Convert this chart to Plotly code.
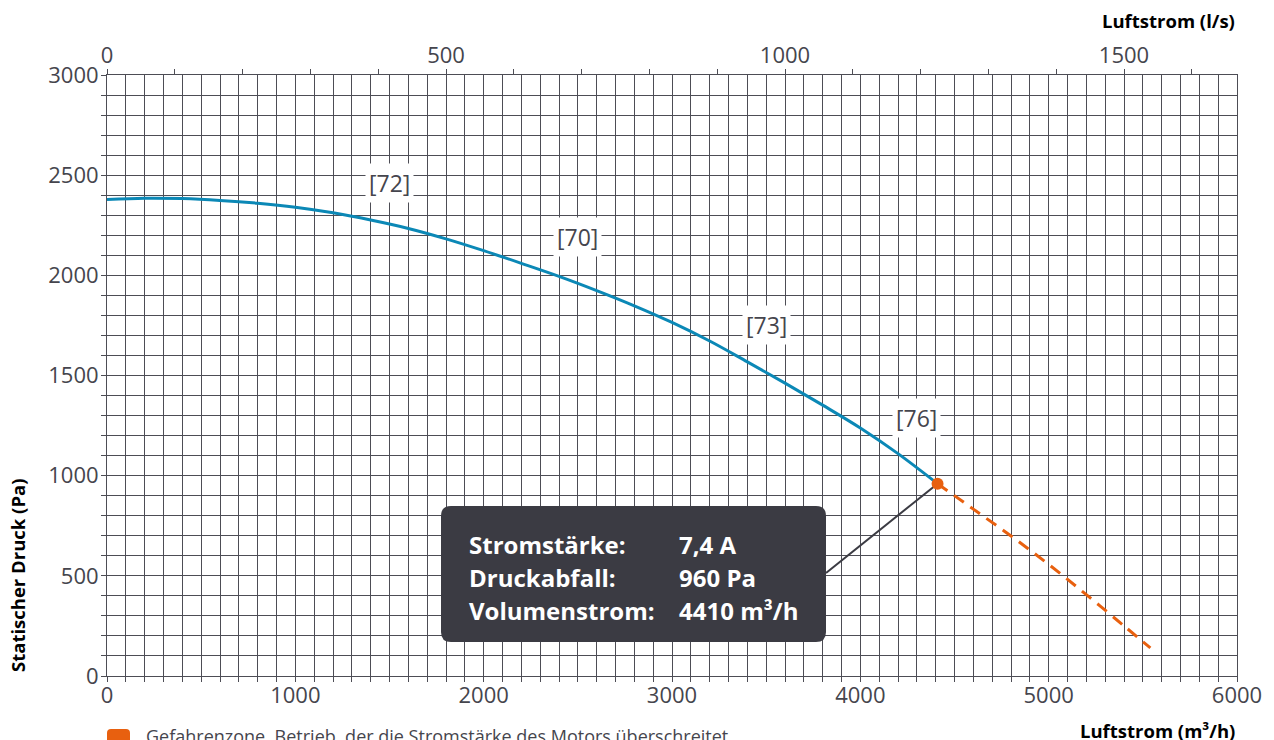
import plotly.graph_objects as go

# ---------------- data ----------------
flow_m3h = [0, 200, 400, 600, 800, 1000, 1200, 1400, 1600, 1800, 2000, 2200,
            2400, 2600, 2800, 3000, 3200, 3400, 3600, 3800, 4000, 4200, 4410]
pressure_pa = [2378, 2385, 2383, 2374, 2360, 2340, 2312, 2276, 2234, 2182, 2123, 2060,
               1995, 1924, 1848, 1765, 1672, 1568, 1462, 1352, 1238, 1110, 960]

danger_flow = [4410, 4600, 4800, 5000, 5200, 5400, 5540]
danger_pressure = [960, 833, 699, 557, 406, 250, 140]

op_flow = [4410]
op_pressure = [960]

label_flow = [1500, 2500, 3500, 4300]
label_pressure = [2460, 2190, 1750, 1290]
label_text = ["[72]", "[70]", "[73]", "[76]"]

tip_keys = ["Stromstärke:", "Druckabfall:", "Volumenstrom:"]
tip_vals = ["7,4 A", "960 Pa", "4410 m³/h"]

x_ticks = [0, 1000, 2000, 3000, 4000, 5000, 6000]
y_ticks = [0, 500, 1000, 1500, 2000, 2500, 3000]
top_ticks = [0, 500, 1000, 1500]
M3H_PER_LS = 3.6

# ---------------- layout constants (window pixels) ----------------
OFF = 8                      # page body margin
W, H = 1274 - OFF, 740
X_LEFT, X_RIGHT = 107, 1237  # plot area in window pixels
Y_TOP, Y_BOT = 75, 676
ML = X_LEFT - OFF
MT = Y_TOP - OFF
PW = X_RIGHT - X_LEFT
PH = Y_BOT - Y_TOP
MR = W - ML - PW
MB = H - MT - PH
XMAX, YMAX = 6000, 3000

FONT = "Open Sans"
TXT = "#45454d"
GRID = "#4d4d55"
BLUE = "#0b88b6"
ORANGE = "#e8600f"
DARK = "#3b3b43"


def px2x(px):
    return (px - X_LEFT) / PW * XMAX


def py2y(py):
    return (Y_BOT - py) / PH * YMAX


def px2paper(px):
    return (px - X_LEFT) / PW


def py2paper(py):
    return (Y_BOT - py) / PH


def rounded_path(x0, x1, y0, y1, rx, ry):
    return (f"M {x0+rx},{y1} L {x1-rx},{y1} Q {x1},{y1} {x1},{y1-ry} "
            f"L {x1},{y0+ry} Q {x1},{y0} {x1-rx},{y0} L {x0+rx},{y0} "
            f"Q {x0},{y0} {x0},{y0+ry} L {x0},{y1-ry} Q {x0},{y1} {x0+rx},{y1} Z")


fig = go.Figure()

fig.add_trace(go.Scatter(x=flow_m3h, y=pressure_pa, mode="lines",
                         line=dict(color=BLUE, width=3, shape="spline"),
                         hoverinfo="skip", showlegend=False))
fig.add_trace(go.Scatter(x=danger_flow, y=danger_pressure, mode="lines",
                         line=dict(color=ORANGE, width=3, dash="12px,8px", shape="spline"),
                         hoverinfo="skip", showlegend=False))
# invisible trace to activate top axis
fig.add_trace(go.Scatter(x=[0, XMAX / M3H_PER_LS], y=[0, 0], xaxis="x2", mode="markers",
                         marker=dict(opacity=0), hoverinfo="skip", showlegend=False))

# tooltip box + connector
bx0, bx1, by0, by1 = px2x(441), px2x(826), py2y(642), py2y(506)
rx, ry = 10 / PW * XMAX, 10 / PH * YMAX
fig.add_shape(type="line", x0=bx1, y0=py2y(573), x1=op_flow[0], y1=op_pressure[0],
              xref="x", yref="y", line=dict(color=DARK, width=2), layer="between")
fig.add_shape(type="path", path=rounded_path(bx0, bx1, by0, by1, rx, ry), xref="x", yref="y",
              fillcolor=DARK, line=dict(width=0), layer="above")

fig.add_trace(go.Scatter(x=op_flow, y=op_pressure, mode="markers",
                         marker=dict(color=ORANGE, size=12),
                         hoverinfo="skip", showlegend=False))

annotations = []
for xv, yv, t in zip(label_flow, label_pressure, label_text):
    annotations.append(dict(x=xv, y=yv, xref="x", yref="y", text=t, showarrow=False,
                            font=dict(family=FONT, size=23, color=TXT),
                            bgcolor="white", borderpad=3))

for i, (k, v) in enumerate(zip(tip_keys, tip_vals)):
    yc = py2paper(544 + 33 * i)
    annotations.append(dict(x=px2paper(467), y=yc, xref="paper", yref="paper",
                            xanchor="left", yanchor="middle", text=f"<b>{k}</b>",
                            showarrow=False, font=dict(family=FONT, size=24, color="white")))
    annotations.append(dict(x=px2paper(677), y=yc, xref="paper", yref="paper",
                            xanchor="left", yanchor="middle", text=f"<b>{v}</b>",
                            showarrow=False, font=dict(family=FONT, size=24, color="white")))

TITLE_FONT = dict(family=FONT, size=18.5, color="black")
annotations.append(dict(x=1, y=py2paper(20), xref="paper", yref="paper", xanchor="right",
                        yanchor="middle", text="<b>Luftstrom (l/s)</b>", showarrow=False,
                        font=TITLE_FONT))
annotations.append(dict(x=1, y=py2paper(730), xref="paper", yref="paper", xanchor="right",
                        yanchor="middle", text="<b>Luftstrom (m³/h)</b>", showarrow=False,
                        font=TITLE_FONT))
annotations.append(dict(x=px2paper(17), y=py2paper(576), xref="paper", yref="paper",
                        xanchor="center", yanchor="middle", textangle=-90,
                        text="<b>Statischer Druck (Pa)</b>", showarrow=False,
                        font=TITLE_FONT))
annotations.append(dict(x=px2paper(144), y=py2paper(736), xref="paper", yref="paper",
                        xanchor="left", yanchor="middle",
                        text="Gefahrenzone. Betrieb, der die Stromstärke des Motors überschreitet",
                        showarrow=False, font=dict(family=FONT, size=18, color=TXT)))

sx0, sx1, sy0, sy1 = px2paper(107), px2paper(130), py2paper(752), py2paper(729)
fig.add_shape(type="path", xref="paper", yref="paper",
              path=rounded_path(sx0, sx1, sy0, sy1, 4 / PW, 4 / PH),
              fillcolor=ORANGE, line=dict(width=0), layer="above")

tickfont = dict(family=FONT, size=22, color=TXT)
fig.update_layout(
    width=W, height=H,
    margin=dict(l=ML, r=MR, t=MT, b=MB, pad=0),
    paper_bgcolor="white", plot_bgcolor="white",
    annotations=annotations,
    xaxis=dict(range=[0, XMAX], tickvals=x_ticks, ticks="outside", ticklen=5,
               tickcolor=GRID, tickfont=tickfont, ticklabelstandoff=-5,
               showgrid=True, gridcolor=GRID, gridwidth=1,
               minor=dict(dtick=100, tick0=0, ticks="outside", ticklen=5, tickcolor=GRID,
                          showgrid=True, gridcolor=GRID, gridwidth=1),
               showline=True, linecolor=GRID, linewidth=1, mirror=True,
               zeroline=False, fixedrange=True),
    yaxis=dict(range=[0, YMAX], tickvals=y_ticks, ticks="outside", ticklen=5,
               tickcolor=GRID, tickfont=tickfont, ticklabelstandoff=-2,
               showgrid=True, gridcolor=GRID, gridwidth=1,
               minor=dict(dtick=100, tick0=0, ticks="outside", ticklen=5, tickcolor=GRID,
                          showgrid=True, gridcolor=GRID, gridwidth=1),
               showline=True, linecolor=GRID, linewidth=1, mirror=True,
               zeroline=False, fixedrange=True),
    xaxis2=dict(range=[0, XMAX / M3H_PER_LS], overlaying="x", side="top",
                tickvals=top_ticks, ticks="outside", ticklen=5, tickcolor=GRID,
                tickfont=tickfont, ticklabelstandoff=-3, showgrid=False, zeroline=False,
                minor=dict(dtick=100, tick0=0, ticks="outside", ticklen=5, tickcolor=GRID),
                showline=False, fixedrange=True),
    showlegend=False,
)

fig.write_html("out.html")
